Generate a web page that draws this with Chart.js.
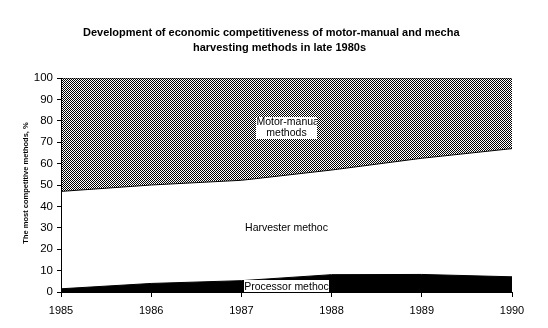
<!DOCTYPE html>
<html>
<head>
<meta charset="utf-8">
<script src="https://cdn.jsdelivr.net/npm/chart.js@4"></script>
<style>
  html, body { margin: 0; padding: 0; background: #fff; }
  canvas { display: block; }
</style>
</head>
<body>
<canvas id="c" width="548" height="328"></canvas>
<script>
// ---- data ----
const years = ['1985', '1986', '1987', '1988', '1989', '1990'];
const processor   = [1.5, 4.0, 5.3, 8.1, 8.2, 7.1];
const harvester   = [45.5, 46.0, 46.9, 48.9, 54.3, 59.9];
const motorManual = [53.0, 50.0, 47.8, 43.0, 37.5, 33.0];
const titleLines = ['Development of economic competitiveness of motor-manual and mecha',
                    'harvesting methods in late 1980s'];
const yAxisTitle = 'The most competitive methods, %';
const yMin = 0, yMax = 100, yStep = 10;

// checkerboard (dither) pattern for motor-manual
function checker() {
  const p = document.createElement('canvas');
  p.width = 2; p.height = 2;
  const g = p.getContext('2d');
  g.fillStyle = '#fff'; g.fillRect(0, 0, 2, 2);
  g.fillStyle = '#000'; g.fillRect(0, 0, 1, 1); g.fillRect(1, 1, 1, 1);
  return g.createPattern(p, 'repeat');
}
const ctx0 = document.getElementById('c').getContext('2d');

const decor = {
  id: 'decor',
  afterDraw(chart) {
    const ctx = chart.ctx, xs = chart.scales.x, ys = chart.scales.y;
    const cx = xs.getPixelForValue(2.5);
    ctx.save();
    ctx.textBaseline = 'middle';
    ctx.font = '10.5px "Liberation Sans", Arial, sans-serif';
    // Motor-manual label (white box, clipped)
    const bt = Math.round(ys.getPixelForValue(82));
    const bx = Math.round(cx - 31);
    ctx.fillStyle = '#ffffff';
    ctx.fillRect(bx, bt, 61, 22);
    ctx.save();
    ctx.beginPath();
    ctx.rect(bx, bt, 61, 22);
    ctx.clip();
    ctx.fillStyle = '#000';
    ctx.textAlign = 'left';
    ctx.fillText('Motor-manua', cx - 30, ys.getPixelForValue(79.2));
    ctx.textAlign = 'center';
    ctx.fillText('methods', cx, ys.getPixelForValue(74.1));
    ctx.restore();
    // Harvester label
    ctx.fillStyle = '#000';
    ctx.textAlign = 'center';
    ctx.fillText('Harvester methoc', cx, ys.getPixelForValue(29.9));
    // Processor label with white box
    const b = Math.round(ys.getPixelForValue(0));
    ctx.fillStyle = '#ffffff';
    ctx.fillRect(Math.round(cx - 43), b - 12, 85, 12);
    ctx.fillStyle = '#000';
    ctx.fillText('Processor methoc', cx, b - 5);

    // titles
    ctx.textBaseline = 'middle';
    ctx.font = 'bold 11px "Liberation Sans", Arial, sans-serif';
    ctx.textAlign = 'left';
    ctx.fillText(titleLines[0], 83, 33);
    ctx.textAlign = 'center';
    ctx.fillText(titleLines[1], 279.5, 48);
    // y axis title
    ctx.font = 'bold 7.5px "Liberation Sans", Arial, sans-serif';
    ctx.translate(25.5, 183);
    ctx.rotate(-Math.PI / 2);
    ctx.fillText(yAxisTitle, 0, 0);
    ctx.restore();
  }
};

new Chart(ctx0, {
  type: 'line',
  data: {
    labels: years,
    datasets: [
      { label: 'Processor methods', data: processor, fill: 'origin',
        backgroundColor: '#000', borderColor: '#000', borderWidth: 1 },
      { label: 'Harvester methods', data: harvester, fill: '-1',
        backgroundColor: '#fff', borderColor: '#000', borderWidth: 1 },
      { label: 'Motor-manual methods', data: motorManual, fill: '-1',
        backgroundColor: checker(), borderColor: '#000', borderWidth: 1 }
    ]
  },
  options: {
    responsive: false,
    animation: false,
    devicePixelRatio: 1,
    layout: { padding: { top: 78, right: 36, left: 0, bottom: 0 } },
    elements: { point: { radius: 0, hoverRadius: 0 }, line: { tension: 0 } },
    plugins: { legend: { display: false }, tooltip: { enabled: false }, title: { display: false } },
    scales: {
      x: {
        z: 1,
        offset: false,
        grid: { z: 1, display: true, drawOnChartArea: false, drawTicks: true, tickLength: 5, color: '#000', lineWidth: 1 },
        border: { z: 1, display: true, color: '#000', width: 1 },
        ticks: { color: '#000', font: { family: '"Liberation Sans", Arial, sans-serif', size: 11 }, padding: 7, maxRotation: 0 },
        afterFit(s) { s.height = 36; }
      },
      y: {
        z: 1,
        stacked: true,
        min: yMin, max: yMax,
        grid: { z: 1, display: true, drawOnChartArea: false, drawTicks: true, tickLength: 4, color: '#000', lineWidth: 1 },
        border: { z: 1, display: true, color: '#000', width: 1 },
        ticks: { stepSize: yStep, color: '#000', font: { family: '"Liberation Sans", Arial, sans-serif', size: 11.5 }, padding: 4 },
        afterFit(s) { s.width = 61; }
      }
    }
  },
  plugins: [decor]
});
</script>
</body>
</html>
